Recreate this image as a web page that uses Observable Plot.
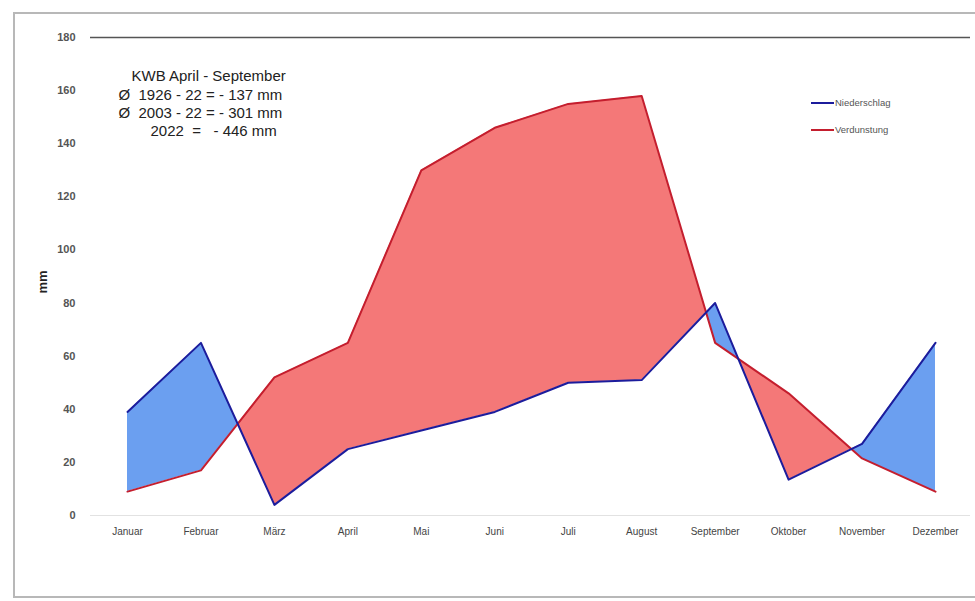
<!DOCTYPE html>
<html>
<head>
<meta charset="utf-8">
<script src="https://cdn.jsdelivr.net/npm/d3@7"></script>
<script src="https://cdn.jsdelivr.net/npm/@observablehq/plot@0.6"></script>
<style>
  body { margin: 0; background: #fff; font-family: "Liberation Sans", Arial, sans-serif; }
  #wrap { position: relative; width: 975px; height: 601px; overflow: hidden; }
  #frame { position: absolute; left: 13px; top: 12px; width: 966px; height: 586px; border: 2px solid #b8b8b8; box-sizing: border-box; }
  #chart { position: absolute; left: 0; top: 0; }
  .leg { position: absolute; font-size: 9.5px; color: #555; display: flex; align-items: center; }
  .leg span.sw { display: inline-block; width: 23px; height: 2px; margin-right: 1px; }
</style>
</head>
<body>
<div id="wrap">
  <div id="frame"></div>
  <div id="chart"></div>
  <div class="leg" style="left:811px; top:97px;"><span class="sw" style="background:#1c1c9c"></span>Niederschlag</div>
  <div class="leg" style="left:811px; top:124px;"><span class="sw" style="background:#c41e2e"></span>Verdunstung</div>
</div>
<script>
const months = ["Januar","Februar","März","April","Mai","Juni","Juli","August","September","Oktober","November","Dezember"];
const niederschlag = [39, 65, 4, 25, 32, 39, 50, 51, 80, 13.5, 27, 65];
const verdunstung  = [9, 17, 52, 65, 130, 146, 155, 158, 65, 46, 21.5, 9];
const yTicks = [0, 20, 40, 60, 80, 100, 120, 140, 160, 180];
const noteLines = [
  "KWB April - September",
  "Ø  1926 - 22 = - 137 mm",
  "Ø  2003 - 22 = - 301 mm",
  "2022  =   - 446 mm"
];

// table of points
const rows = months.map((m, i) => ({i, month: m, N: niederschlag[i], E: verdunstung[i]}));

// split the band between the two lines into segments at the crossings
const segs = [];
let seg = 0;
for (let k = 0; k < rows.length; k++) {
  const r = rows[k];
  segs.push({x: r.i, N: r.N, E: r.E, seg, wet: r.N >= r.E});
  if (k < rows.length - 1) {
    const s = rows[k + 1];
    const d0 = r.N - r.E, d1 = s.N - s.E;
    if (d0 * d1 < 0) {
      const t = d0 / (d0 - d1);
      const xc = r.i + t;
      const yc = r.N + t * (s.N - r.N);
      segs.push({x: xc, N: yc, E: yc, seg, wet: d0 > 0});
      seg++;
      segs.push({x: xc, N: yc, E: yc, seg, wet: d1 > 0});
    }
  }
}

const plot = Plot.plot({
  width: 975,
  height: 601,
  marginLeft: 90,
  marginRight: 5,
  marginTop: 37,
  marginBottom: 86,
  style: {background: "transparent", fontFamily: "Liberation Sans, Arial, sans-serif"},
  x: {type: "linear", domain: [0, 11], range: [127, 935], axis: null},
  y: {domain: [0, 180], axis: null},
  marks: [
    Plot.ruleY([0], {stroke: "#e2e2e2", strokeWidth: 1}),
    Plot.ruleY([180], {stroke: "#555", strokeWidth: 1.5}),
    Plot.areaY(segs, {x: "x", y1: "N", y2: "E", z: "seg", fill: d => d.wet ? "#6b9ff0" : "#f47878", fillOpacity: 1}),
    Plot.lineY(rows, {x: "i", y: "E", stroke: "#c41e2e", strokeWidth: 2}),
    Plot.lineY(rows, {x: "i", y: "N", stroke: "#1c1c9c", strokeWidth: 2}),
    Plot.axisY(yTicks, {anchor: "left", tickSize: 0, tickPadding: 15, fontSize: 11, fontWeight: "bold", fill: "#555", label: null}),
    Plot.axisX(rows.map(r => r.i), {anchor: "bottom", tickSize: 0, tickPadding: 12, fontSize: 10, fill: "#444", tickFormat: i => months[i], label: null}),
    Plot.text(["mm"], {frameAnchor: "left", dx: -48, dy: 17, rotate: -90, fontSize: 13, fontWeight: "bold", fill: "#222"}),
    Plot.text([noteLines[0]], {frameAnchor: "top-left", dx: 41, dy: 33, textAnchor: "start", fontSize: 15, fill: "#222"}),
    Plot.text([noteLines[1]], {frameAnchor: "top-left", dx: 28, dy: 52, textAnchor: "start", fontSize: 15, fill: "#222"}),
    Plot.text([noteLines[2]], {frameAnchor: "top-left", dx: 28, dy: 70, textAnchor: "start", fontSize: 15, fill: "#222"}),
    Plot.text([noteLines[3]], {frameAnchor: "top-left", dx: 60, dy: 88, textAnchor: "start", fontSize: 15, fill: "#222"})
  ]
});
document.getElementById("chart").appendChild(plot);
</script>
</body>
</html>
